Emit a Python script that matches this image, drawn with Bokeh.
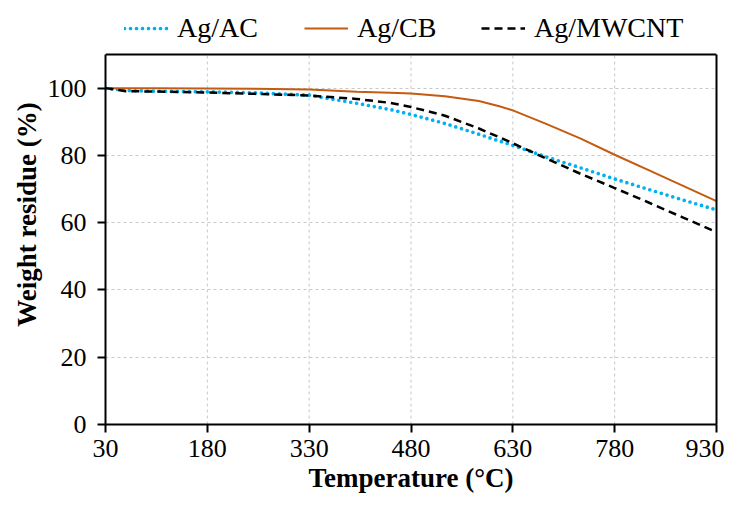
from bokeh.plotting import figure
from bokeh.models import (Range1d, FixedTicker, Legend, LegendItem, LinearAxis, Span)
from bokeh.embed import file_html
from bokeh.resources import INLINE

# ---- data ----
temperature = [30, 60, 100, 180, 250, 330, 400, 450, 480, 530, 580, 610, 630,
               680, 730, 780, 830, 880, 930]
ag_ac = [100.0, 99.3, 99.1, 98.9, 98.6, 97.9, 95.5, 93.6, 92.2, 89.5, 86.3,
         84.3, 83.0, 79.5, 76.3, 73.0, 69.9, 66.8, 63.8]
ag_cb = [100.0, 100.0, 100.0, 99.9, 99.8, 99.6, 98.9, 98.6, 98.4, 97.6, 96.2,
         94.6, 93.4, 89.3, 85.0, 80.2, 75.6, 71.0, 66.4]
ag_mwcnt = [100.0, 99.1, 99.0, 98.7, 98.3, 97.8, 96.8, 95.6, 94.4, 91.8, 88.0,
            85.4, 83.6, 79.0, 74.5, 70.3, 66.0, 61.6, 57.2]
series_names = ["Ag/AC", "Ag/CB", "Ag/MWCNT"]
x_ticks = [30, 180, 330, 480, 630, 780, 930]
y_ticks = [0, 20, 40, 60, 80, 100]
y_max = 110

FONT = "Liberation Serif"
STYLES = [dict(line_color="#00B0F0", line_width=3.7, line_dash="0 6", line_cap="round"),
          dict(line_color="#C55A11", line_width=2),
          dict(line_color="black", line_width=2.5, line_dash="8 5")]

# layout (screen px): frame top at 4, plot box top (y = 110) at 54, frame bottom at 424
TOP, BOX_TOP, BOTTOM = 4, 54, 424
y_view_max = y_max * (BOTTOM - TOP) / (BOTTOM - BOX_TOP)

p = figure(width=724, height=496, output_backend="svg", toolbar_location=None,
           x_range=Range1d(x_ticks[0], x_ticks[-1]), y_range=Range1d(0, y_view_max),
           min_border_left=105, min_border_right=8, min_border_top=TOP,
           min_border_bottom=496 - BOTTOM)
p.outline_line_color = None

for ax in (p.xaxis[0], p.yaxis[0]):
    ax.axis_line_color = "black"
    ax.axis_line_width = 2
    ax.major_tick_line_color = "black"
    ax.major_tick_line_width = 2
    ax.major_tick_out = 8
    ax.major_tick_in = 0
    ax.minor_tick_line_color = None
    ax.major_label_text_font = FONT
    ax.major_label_text_font_size = "26px"
    ax.major_label_text_color = "black"
    ax.axis_label_text_font = FONT
    ax.axis_label_text_font_size = "27px"
    ax.axis_label_text_font_style = "bold"
    ax.axis_label_text_color = "black"

p.xaxis.ticker = FixedTicker(ticks=x_ticks)
p.yaxis.ticker = FixedTicker(ticks=y_ticks)
p.yaxis.bounds = (0, y_max)
p.xaxis.axis_label = "Temperature (°C)"
p.yaxis.axis_label = "Weight residue (%)"
p.xaxis.major_label_standoff = 7
p.yaxis.major_label_standoff = 11
p.xaxis.axis_label_standoff = 3
p.yaxis.axis_label_standoff = 3

# right border of the plot box
right = LinearAxis(bounds=(0, y_max), ticker=FixedTicker(ticks=[]),
                   axis_line_color="black", axis_line_width=2,
                   major_tick_out=0, major_tick_in=0, minor_tick_line_color=None,
                   major_label_text_font_size="0px")
p.add_layout(right, "right")
# top border of the plot box
p.add_layout(Span(location=y_max, dimension="width", line_color="black", line_width=2))

# grid: horizontal from the built-in grid, vertical limited to the plot box
p.xgrid.visible = False
p.ygrid.grid_line_color = "#C8C8C8"
p.ygrid.grid_line_dash = "3 3"
p.ygrid.grid_line_width = 1
inner_x = x_ticks[1:-1]
p.segment(x0=inner_x, y0=[0] * len(inner_x), x1=inner_x, y1=[y_max] * len(inner_x),
          line_color="#C8C8C8", line_dash="3 3", line_width=1)

series = [ag_ac, ag_cb, ag_mwcnt]
renderers = [p.line(temperature, vals, **st) for vals, st in zip(series, STYLES)]

# one legend per entry, placed above the plot box
legend_x = [19, 199, 376]
for name, r, lx in zip(series_names, renderers, legend_x):
    lg = Legend(items=[LegendItem(label=name, renderers=[r])],
                location=(lx, BOTTOM - 44),
                border_line_color=None, background_fill_alpha=0,
                padding=0, margin=0, glyph_width=44, label_standoff=9,
                label_text_font=FONT, label_text_font_size="28px",
                label_text_color="black")
    p.add_layout(lg, "center")

open("out.html", "w").write(file_html(p, INLINE))
